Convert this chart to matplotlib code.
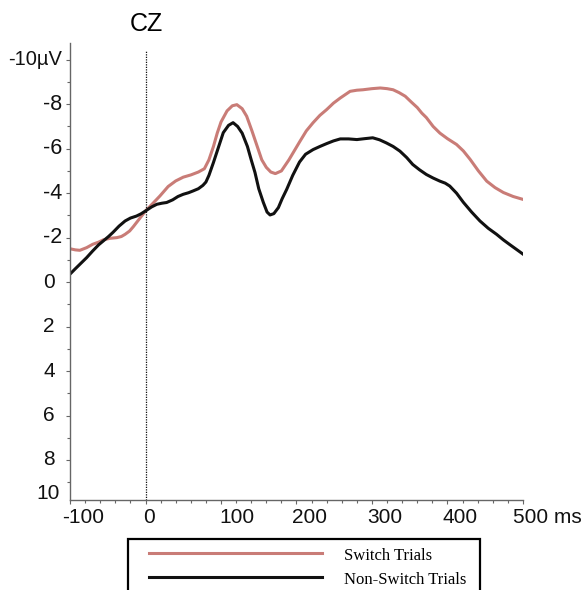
#!/usr/bin/env python3
"""ERP waveform at CZ: switch vs non-switch trials."""

import matplotlib

matplotlib.use("Agg")
import matplotlib.pyplot as plt
import matplotlib.transforms as mtransforms
from matplotlib.lines import Line2D
from matplotlib.patches import Rectangle

plt.rcParams["font.family"] = ["Liberation Sans", "DejaVu Sans"]

RED = "#c97c77"
BLACK = "#111111"
AXIS = "#666666"

# time (ms) and amplitude (microvolts, negative up)
switch_ms = [-100, -93, -87, -78, -70, -62, -56, -47, -38, -32, -27, -21, -16, -8,
             0, 10, 19, 30, 40, 50, 60, 70, 78, 84, 90, 95, 100, 108, 115, 121,
             128, 134, 141, 148, 154, 160, 166, 172, 180, 190, 197, 204, 213, 222,
             231, 240, 249, 258, 271, 280, 288, 300, 311, 320, 328, 336, 344, 352,
             360, 366, 372, 381, 390, 400, 412, 421, 430, 441, 452, 463, 474, 487,
             500]
switch_uv = [-1.5, -1.45, -1.43, -1.55, -1.7, -1.8, -1.9, -1.97, -2.0, -2.05, -2.15,
             -2.3, -2.5, -2.85, -3.2, -3.55, -3.87, -4.3, -4.55, -4.72, -4.82, -4.95,
             -5.1, -5.5, -6.1, -6.7, -7.2, -7.7, -7.93, -7.98, -7.8, -7.46, -6.8,
             -6.1, -5.5, -5.16, -4.95, -4.88, -5.0, -5.5, -5.9, -6.3, -6.8, -7.17,
             -7.5, -7.76, -8.05, -8.28, -8.58, -8.63, -8.65, -8.7, -8.73, -8.7,
             -8.65, -8.52, -8.36, -8.1, -7.85, -7.6, -7.4, -7.0, -6.7, -6.45, -6.19,
             -5.9, -5.52, -5.0, -4.54, -4.25, -4.03, -3.85, -3.72]

nonswitch_ms = [-100, -93, -87, -78, -70, -62, -56, -49, -43, -35, -27, -20, -12, -6,
                0, 8, 15, 22, 28, 36, 43, 50, 57, 63, 70, 76, 80, 84, 90, 96, 103,
                110, 116, 122, 128, 135, 140, 145, 150, 156, 161, 165, 170, 176, 181,
                187, 195, 204, 212, 222, 231, 240, 249, 258, 269, 280, 290, 301, 310,
                319, 328, 337, 346, 354, 363, 372, 381, 390, 397, 403, 412, 421, 432,
                443, 454, 465, 474, 482, 491, 500]
nonswitch_uv = [-0.36, -0.6, -0.8, -1.1, -1.4, -1.68, -1.85, -2.05, -2.24, -2.52,
                -2.75, -2.88, -2.97, -3.07, -3.2, -3.38, -3.5, -3.55, -3.58, -3.7,
                -3.85, -3.95, -4.02, -4.1, -4.2, -4.35, -4.5, -4.8, -5.38, -6.0,
                -6.72, -7.05, -7.17, -7.0, -6.7, -6.1, -5.5, -4.93, -4.2, -3.59,
                -3.15, -3.02, -3.08, -3.35, -3.75, -4.17, -4.8, -5.4, -5.75, -5.96,
                -6.1, -6.23, -6.35, -6.44, -6.44, -6.41, -6.45, -6.49, -6.4, -6.26,
                -6.1, -5.89, -5.6, -5.29, -5.05, -4.84, -4.68, -4.54, -4.45, -4.32,
                -4.0, -3.59, -3.15, -2.75, -2.42, -2.15, -1.9, -1.7, -1.48, -1.26]

x_ticks = [-100, 0, 100, 200, 300, 400, 500]
x_labels = ["-100", "0", "100", "200", "300", "400", "500 ms"]
y_ticks = [-10, -8, -6, -4, -2, 0, 2, 4, 6, 8]
y_labels = ["-10µV", "-8", "-6", "-4", "-2", "0", "2", "4", "6", "8"]


def main():
    fig = plt.figure(figsize=(5.84, 5.9), dpi=100)
    ax = fig.add_axes([0.1199, 0.1525, 0.7756, 0.7745])

    ax.plot(switch_ms, switch_uv, color=RED, lw=2.2, solid_joinstyle="round")
    ax.plot(nonswitch_ms, nonswitch_uv, color=BLACK, lw=2.2, solid_joinstyle="round")
    ax.axvline(0, ymin=0, ymax=0.985, color=BLACK, lw=0.9, ls=(0, (1, 1)))

    ax.set_xlim(-100, 500)
    ax.set_ylim(9.8, -10.75)
    for side in ("top", "right"):
        ax.spines[side].set_visible(False)
    for side in ("left", "bottom"):
        ax.spines[side].set_color(AXIS)
        ax.spines[side].set_linewidth(1.0)

    ax.set_xticks(x_ticks)
    ax.set_xticks(range(-100, 501, 20), minor=True)
    ax.set_yticks(y_ticks)
    ax.set_yticks(range(-9, 10, 2), minor=True)
    ax.tick_params(which="both", direction="out", color=AXIS, width=0.8,
                   labelbottom=False, labelleft=False)
    ax.tick_params(which="major", length=3)
    ax.tick_params(which="minor", length=2)

    # tick labels drawn by hand, shifted like in the original figure
    xt = mtransforms.blended_transform_factory(ax.transData, ax.transAxes)
    x_shift = [13, 3, 16, 13, 13, 13, -10]
    for v, lab, dx in zip(x_ticks, x_labels, x_shift):
        ax.annotate(lab, xy=(v, 0), xycoords=xt, xytext=(dx, -8),
                    textcoords="offset pixels", ha="left" if lab.endswith("ms") else "center",
                    va="top", fontsize=15, color="#111111")

    yt = mtransforms.blended_transform_factory(ax.transAxes, ax.transData)
    for v, lab in zip(y_ticks, y_labels):
        if v < 0:
            ax.annotate(lab, xy=(0, v), xycoords=yt, xytext=(-8, 0),
                        textcoords="offset pixels", ha="right", va="center",
                        fontsize=14.5 if v == -10 else 15.5, color="#111111")
        else:
            ax.annotate(lab, xy=(0, v), xycoords=yt, xytext=(-21, 0),
                        textcoords="offset pixels", ha="center", va="center",
                        fontsize=15, color="#111111")
    ax.annotate("10", xy=(0, 9.5), xycoords=yt, xytext=(-22, 0),
                textcoords="offset pixels", ha="center", va="center",
                fontsize=15, color="#111111")

    fig.text(146 / 584, 1 - 24 / 590, "CZ", fontsize=18, ha="center", va="center")

    # legend box, cut by the bottom edge
    fig.add_artist(Rectangle((128 / 584, -0.05), 352 / 584, 0.05 + 1 - 539 / 590,
                             transform=fig.transFigure, facecolor="white",
                             edgecolor="black", lw=1.6))
    fig.add_artist(Line2D([149 / 584, 322 / 584], [1 - 553 / 590] * 2,
                          transform=fig.transFigure, color=RED, lw=2.2))
    fig.add_artist(Line2D([149 / 584, 322 / 584], [1 - 577 / 590] * 2,
                          transform=fig.transFigure, color=BLACK, lw=2.2))
    serif = ["Liberation Serif", "DejaVu Serif"]
    fig.text(344 / 584, 1 - 556 / 590, "Switch Trials", family=serif,
             fontsize=12, ha="left", va="center")
    fig.text(344 / 584, 1 - 580 / 590, "Non-Switch Trials", family=serif,
             fontsize=12, ha="left", va="center")

    fig.savefig("out.png", dpi=100, facecolor="white")
    plt.close(fig)


if __name__ == "__main__":
    main()
